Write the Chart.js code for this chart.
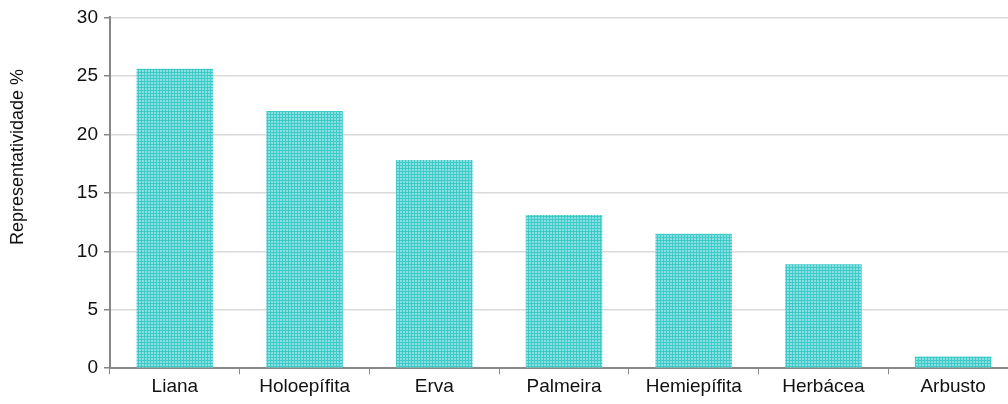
<!DOCTYPE html>
<html lang="pt">
<head>
    <meta charset="UTF-8">
    <title>Representatividade</title>
    <script src="https://cdn.jsdelivr.net/npm/chart.js"></script>
    <style>
        html, body { margin: 0; padding: 0; background: #fff; overflow: hidden; }
        #wrap { width: 1018px; height: 404px; }
    </style>
</head>
<body>
    <div id="wrap"><canvas id="chart"></canvas></div>

    <script>
        // Dados
        const categories = ['Liana', 'Holoepífita', 'Erva', 'Palmeira', 'Hemiepífita', 'Herbácea', 'Arbusto'];
        const values = [25.6, 22.0, 17.8, 13.1, 11.5, 8.9, 1.0];
        const yTicks = [0, 5, 10, 15, 20, 25, 30];
        const yTitle = 'Representatividade %';

        // hachura em grade, estilo Excel
        function makePattern() {
            const p = document.createElement('canvas');
            p.width = 6; p.height = 6;
            const c = p.getContext('2d');
            c.fillStyle = '#8ae0e0';
            c.fillRect(0, 0, 6, 6);
            c.fillStyle = '#3fcaca';
            c.fillRect(0, 0, 6, 1);
            c.fillRect(0, 0, 1, 6);
            c.fillRect(3, 0, 1, 6);
            c.fillRect(0, 3, 6, 1);
            return c.createPattern(p, 'repeat');
        }

        // título do eixo Y, um pouco acima do centro como no original
        const yTitlePlugin = {
            id: 'yTitle',
            afterDraw(chart) {
                const c = chart.ctx;
                c.save();
                c.translate(18, 157);
                c.rotate(-Math.PI / 2);
                c.font = '18px "Liberation Sans", Arial';
                c.fillStyle = '#111';
                c.textAlign = 'center';
                c.textBaseline = 'middle';
                c.fillText(yTitle, 0, 0);
                c.restore();
            }
        };

        const ctx = document.getElementById('chart').getContext('2d');
        new Chart(ctx, {
            type: 'bar',
            data: {
                labels: categories,
                datasets: [{
                    data: values,
                    backgroundColor: makePattern(),
                    borderWidth: 0,
                    categoryPercentage: 1.0,
                    barPercentage: 0.59
                }]
            },
            plugins: [yTitlePlugin],
            options: {
                responsive: true,
                maintainAspectRatio: false,
                animation: false,
                layout: { padding: { top: 12, right: 0, bottom: 5, left: 4 } },
                plugins: {
                    legend: { display: false },
                    tooltip: { enabled: false }
                },
                scales: {
                    x: {
                        grid: {
                            drawOnChartArea: false,
                            drawTicks: true,
                            tickLength: 6,
                            color: '#888'
                        },
                        border: { color: '#888', width: 2 },
                        ticks: {
                            color: '#111',
                            font: { family: 'Liberation Sans, Arial', size: 19 },
                            padding: 1
                        }
                    },
                    y: {
                        min: 0,
                        max: 30,
                        z: 1,
                        afterBuildTicks: axis => { axis.ticks = yTicks.map(v => ({ value: v })); },
                        afterFit: axis => { axis.width = 106; },
                        grid: {
                            color: '#d9d9d9',
                            lineWidth: 1.5,
                            tickLength: 6,
                            tickColor: '#888'
                        },
                        border: { color: '#888', width: 2 },
                        ticks: {
                            color: '#111',
                            font: { family: 'Liberation Sans, Arial', size: 19 },
                            padding: 6
                        }
                    }
                }
            }
        });
    </script>
</body>
</html>
